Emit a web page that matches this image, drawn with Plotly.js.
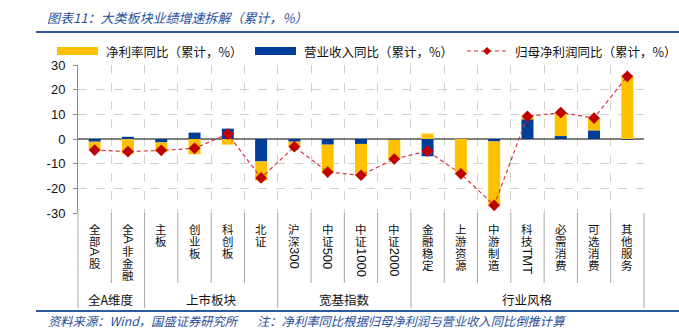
<!DOCTYPE html>
<html>
<head>
<meta charset="utf-8">
<script src="https://cdn.plot.ly/plotly-3.0.1.min.js"></script>
<style>html,body{margin:0;padding:0;background:#fff;}#chart{width:679px;height:334px;}</style>
</head>
<body>
<div id="chart"></div>
<script>
// ---- data ----
const categories = ['全部A股','全A非金融','主板','创业板','科创板','北证','沪深300','中证500','中证1000','中证2000','金融稳定','上游资源','中游制造','科技TMT','必需消费','可选消费','其他服务'];
const revenueYoY = [-1.1, 0.9, -1.4, 2.6, 4.2, -9.1, -1.1, -2.3, -2.0, -0.3, -7.0, 0.0, -1.0, 8.0, 1.2, 3.5, -0.3];
const marginYoY  = [-3.5, -6.1, -3.9, -6.2, -2.3, -7.8, -2.1, -11.6, -12.5, -8.1, 2.2, -14.5, -26.3, 1.2, 9.5, 5.0, 25.7];
const profitYoY  = [-4.5, -5.1, -4.6, -3.8, 2.0, -15.8, -3.1, -13.4, -14.7, -8.1, -4.9, -14.1, -26.9, 9.2, 10.7, 8.5, 25.4];
const groupNames = ['全A维度','上市板块','宽基指数','行业风格'];
const groupSizes = [2, 4, 4, 7];
const seriesNames = ['净利率同比（累计，%）','营业收入同比（累计，%）','归母净利润同比（累计，%）'];
const yTicks = [-30, -20, -10, 0, 10, 20, 30];

// ---- layout helpers (pixel -> paper) ----
const W = 679, H = 334, L = 78, R = 644, T = 65, B = 213;
const PX = x => (x - L) / (R - L);
const PY = y => (B - y) / (B - T);
const FONT = '"Liberation Sans", "Noto Sans CJK SC", sans-serif';
const CJK = '"Noto Sans CJK SC", "Liberation Sans", sans-serif';
const BLUE_T = '#1F4E9A';
const YEL = '#FFC000', BLU = '#003D99', RED = '#C00000';

const canvas = document.createElement('canvas');
const ctx = canvas.getContext('2d');
const LAT = 13;
ctx.font = LAT + 'px "Liberation Sans"';

const traces = [
  {type: 'bar', x: categories, y: revenueYoY, name: seriesNames[1], marker: {color: BLU}, width: 0.36, showlegend: false},
  {type: 'bar', x: categories, y: marginYoY, name: seriesNames[0], marker: {color: YEL}, width: 0.36, showlegend: false},
  {type: 'scatter', mode: 'lines+markers', x: categories, y: profitYoY, name: seriesNames[2],
   line: {color: '#D8333A', width: 1.2, dash: '4px,3px'},
   marker: {symbol: 'diamond', size: 9, color: RED}, showlegend: false}
];

const annotations = [];
const shapes = [];

// title
annotations.push({xref: 'paper', yref: 'paper', x: PX(45), y: PY(17), xanchor: 'left', yanchor: 'middle', showarrow: false,
  text: '<i>图表11：大类板块业绩增速拆解（累计，%）</i>', font: {family: CJK, size: 13, color: BLUE_T}});
shapes.push({type: 'line', xref: 'paper', yref: 'paper', x0: PX(36), x1: PX(679), y0: PY(32), y1: PY(32), line: {color: '#2E5AA0', width: 2}});

// legend (custom)
shapes.push({type: 'rect', xref: 'paper', yref: 'paper', x0: PX(57), x1: PX(98), y0: PY(47), y1: PY(55), fillcolor: YEL, line: {width: 0}});
shapes.push({type: 'rect', xref: 'paper', yref: 'paper', x0: PX(255), x1: PX(296), y0: PY(47), y1: PY(55), fillcolor: BLU, line: {width: 0}});
shapes.push({type: 'line', xref: 'paper', yref: 'paper', x0: PX(467), x1: PX(507), y0: PY(51), y1: PY(51), line: {color: '#D8333A', width: 1.2, dash: '4px,3px'}});
shapes.push({type: 'path', xref: 'paper', yref: 'paper',
  path: `M ${PX(487)} ${PY(47)} L ${PX(491)} ${PY(51)} L ${PX(487)} ${PY(55)} L ${PX(483)} ${PY(51)} Z`, fillcolor: RED, line: {width: 0}});
[[104, 0], [302, 1], [513, 2]].forEach(([x, i]) => {
  annotations.push({xref: 'paper', yref: 'paper', x: PX(x), y: PY(51), xanchor: 'left', yanchor: 'middle', showarrow: false,
    text: seriesNames[i], font: {family: CJK, size: 12.5, color: '#111'}});
});

// category labels: each CJK char stacked vertically, latin runs rotated 90deg
const CJK_SIZE = 11.5, PITCH = 12;
categories.forEach(c => {
  const segs = c.match(/[A-Za-z0-9]+|./g);
  let cur = 223;
  segs.forEach(s => {
    if (/^[A-Za-z0-9]+$/.test(s)) {
      const w = ctx.measureText(s).width;
      const ctr = cur + 0.5 + w / 2;
      annotations.push({xref: 'x', yref: 'paper', x: c, y: 0, yshift: -(ctr - B), xanchor: 'center', yanchor: 'middle',
        showarrow: false, textangle: 90, borderpad: 0, text: s, font: {family: FONT, size: LAT, color: '#111'}});
      cur += w + 1.5;
    } else {
      const ctr = cur + PITCH / 2;
      annotations.push({xref: 'x', yref: 'paper', x: c, y: 0, yshift: -(ctr - B), xanchor: 'center', yanchor: 'middle',
        showarrow: false, borderpad: 0, text: s, font: {family: CJK, size: CJK_SIZE, color: '#111'}});
      cur += PITCH;
    }
  });
});

// separators and group labels
const n = categories.length;
let start = 0;
const groupBounds = new Set([0]);
groupSizes.forEach((g, gi) => {
  const mid = start + g / 2;
  annotations.push({xref: 'paper', yref: 'paper', x: mid / n, y: PY(299), xanchor: 'center', yanchor: 'middle',
    showarrow: false, text: groupNames[gi], font: {family: CJK, size: 12.5, color: '#111'}});
  start += g;
  groupBounds.add(start);
});
for (let i = 0; i <= n; i++) {
  const isG = groupBounds.has(i);
  shapes.push({type: 'line', xref: 'paper', yref: 'paper', x0: i / n, x1: i / n, y0: PY(213), y1: PY(isG ? 308 : 283),
    line: {color: '#A6A6A6', width: 1}});
}

// footer
shapes.push({type: 'line', xref: 'paper', yref: 'paper', x0: PX(36), x1: PX(679), y0: PY(311), y1: PY(311), line: {color: '#2E5AA0', width: 2}});
annotations.push({xref: 'paper', yref: 'paper', x: PX(46), y: PY(321), xanchor: 'left', yanchor: 'middle', showarrow: false,
  text: '<i>资料来源：Wind，国盛证券研究所</i>', font: {family: CJK, size: 12.3, color: BLUE_T}});
annotations.push({xref: 'paper', yref: 'paper', x: PX(255), y: PY(321), xanchor: 'left', yanchor: 'middle', showarrow: false,
  text: '<i>注：净利率同比根据归母净利润与营业收入同比倒推计算</i>', font: {family: CJK, size: 12.3, color: BLUE_T}});

const layout = {
  width: W, height: H,
  margin: {l: L, r: W - R, t: T, b: H - B, pad: 0},
  paper_bgcolor: '#fff', plot_bgcolor: '#fff',
  barmode: 'relative',
  showlegend: false,
  font: {family: FONT, size: 12, color: '#111'},
  xaxis: {type: 'category', range: [-0.5, n - 0.5], showticklabels: false, ticks: '',
    showgrid: true, tickson: 'boundaries', gridcolor: '#D0D0D0', griddash: 'dash', gridwidth: 1,
    showline: false, zeroline: false, fixedrange: true},
  yaxis: {range: [-30, 30], tickvals: yTicks, ticktext: yTicks.map(String), showgrid: true, gridcolor: '#D0D0D0', griddash: 'dash',
    zeroline: true, zerolinecolor: '#7F7F7F', zerolinewidth: 1.3,
    showline: true, linecolor: '#8C8C8C', linewidth: 1, ticks: 'outside', ticklen: 4, tickcolor: '#8C8C8C',
    ticklabelstandoff: 5, tickfont: {family: FONT, size: 13, color: '#111'}, fixedrange: true},
  annotations: annotations,
  shapes: shapes
};

Plotly.newPlot('chart', traces, layout, {staticPlot: true, displayModeBar: false});
</script>
</body>
</html>
